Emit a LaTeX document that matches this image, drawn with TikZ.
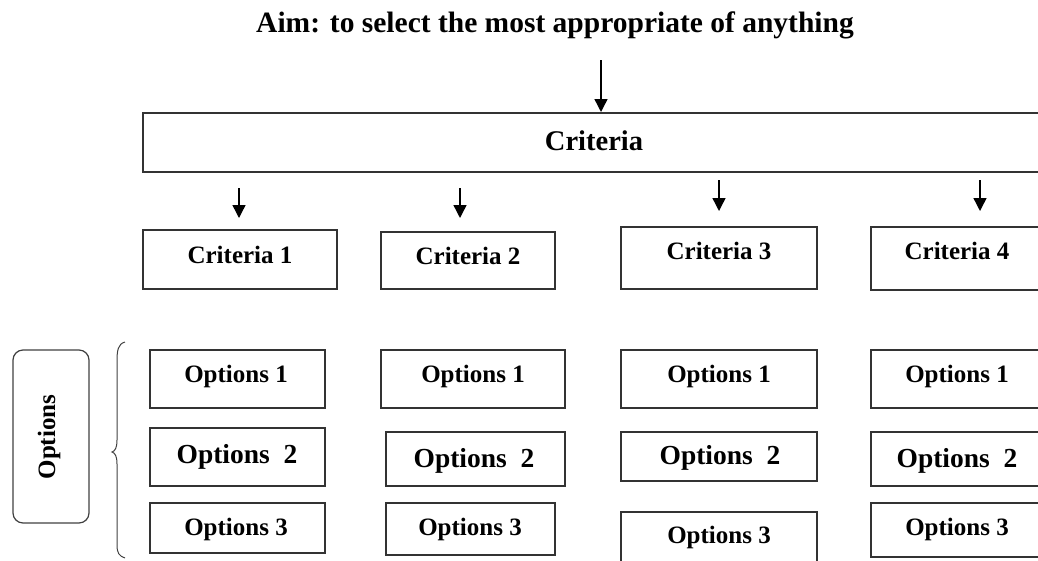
\documentclass[tikz,border=0pt]{standalone}
\usepackage{fontspec}
\setmainfont{Liberation Serif}
\usetikzlibrary{arrows.meta}
\tikzset{
  box/.style={draw=black!80, line width=1.2pt, rectangle, inner sep=0pt},
  lbl/.style={font=\bfseries\fontsize{25}{27}\selectfont, inner sep=0pt, anchor=center},
  big/.style={font=\bfseries\fontsize{27.5}{29}\selectfont, inner sep=0pt, anchor=center},
  arr/.style={line width=1.4pt, -{Triangle[width=13pt,length=13pt]}},
}
\newcommand{\bx}[5]{\node[box, minimum width={#3-#1}, minimum height={#4-#2}] (#5) at ({(#1+#3)/2},{(#2+#4)/2}) {};}
\begin{document}
\begin{tikzpicture}[x=1pt,y=-1pt]
\useasboundingbox (0,0) rectangle (1038,560);
\clip (0,0) rectangle (1038,560);
% title
\node[font=\bfseries\fontsize{29.5}{31}\selectfont, inner sep=0pt] (title) at (555,25) {Aim: to select the most appropriate of anything};
\coordinate (ts) at (601,60);
\coordinate (te) at (601,112);
\draw[arr] (ts) -- (te);
% criteria main
\bx{143}{113}{1060}{172}{crit}
\node[font=\bfseries\fontsize{28.5}{30}\selectfont, inner sep=0pt] (critl) at (594,141) {Criteria};
% arrows
\coordinate (a1s) at (239,188); \coordinate (a1e) at (239,218);
\coordinate (a2s) at (460,188); \coordinate (a2e) at (460,218);
\coordinate (a3s) at (719,180); \coordinate (a3e) at (719,211);
\coordinate (a4s) at (980,180); \coordinate (a4e) at (980,211);
\draw[arr] (a1s) -- (a1e);
\draw[arr] (a2s) -- (a2e);
\draw[arr] (a3s) -- (a3e);
\draw[arr] (a4s) -- (a4e);
% criteria boxes
\bx{143}{230}{337}{289}{c1}
\bx{381}{232}{555}{289}{c2}
\bx{621}{227}{817}{289}{c3}
\bx{871}{227}{1060}{290}{c4}
\node[lbl] (c1l) at (240,255) {Criteria 1};
\node[lbl] (c2l) at (468,256) {Criteria 2};
\node[lbl] (c3l) at (719,251) {Criteria 3};
\node[lbl] (c4l) at (957,251) {Criteria 4};
% options row 1
\bx{150}{350}{325}{408}{o11}
\bx{381}{350}{565}{408}{o21}
\bx{621}{350}{817}{408}{o31}
\bx{871}{350}{1060}{408}{o41}
\node[lbl] (o11l) at (236,376) {Options 1};
\node[lbl] (o21l) at (473,376) {Options 1};
\node[lbl] (o31l) at (719,376) {Options 1};
\node[lbl] (o41l) at (957,376) {Options 1};
% row 2
\bx{150}{428}{325}{486}{o12}
\bx{386}{432}{565}{486}{o22}
\bx{621}{432}{817}{481}{o32}
\bx{871}{432}{1060}{486}{o42}
\node[big] (o12l) at (237,457) {Options\ \ 2};
\node[big] (o22l) at (474,461) {Options\ \ 2};
\node[big] (o32l) at (720,458) {Options\ \ 2};
\node[big] (o42l) at (957,461) {Options\ \ 2};
% row 3
\bx{150}{503}{325}{553}{o13}
\bx{386}{503}{555}{555}{o23}
\bx{621}{512}{817}{568}{o33}
\bx{871}{503}{1060}{557}{o43}
\node[lbl] (o13l) at (236,529) {Options 3};
\node[lbl] (o23l) at (470,529) {Options 3};
\node[lbl] (o33l) at (719,537) {Options 3};
\node[lbl] (o43l) at (957,529) {Options 3};
% options side box
\node[draw=black!75, line width=1.2pt, rounded corners=10pt, minimum width=76pt, minimum height=173pt, inner sep=0pt] (opt) at (51,436.5) {};
\node[lbl, rotate=90] (optl) at (49,437) {Options};
% brace
\draw[black!75, line width=1pt] (125,342) .. controls (118,344) and (117,350) .. (117,362) -- (117,440) .. controls (117,448) and (115,451) .. (112,452) .. controls (115,453) and (117,456) .. (117,464) -- (117,545) .. controls (117,553) and (119,556) .. (125,558);
\end{tikzpicture}
\end{document}
